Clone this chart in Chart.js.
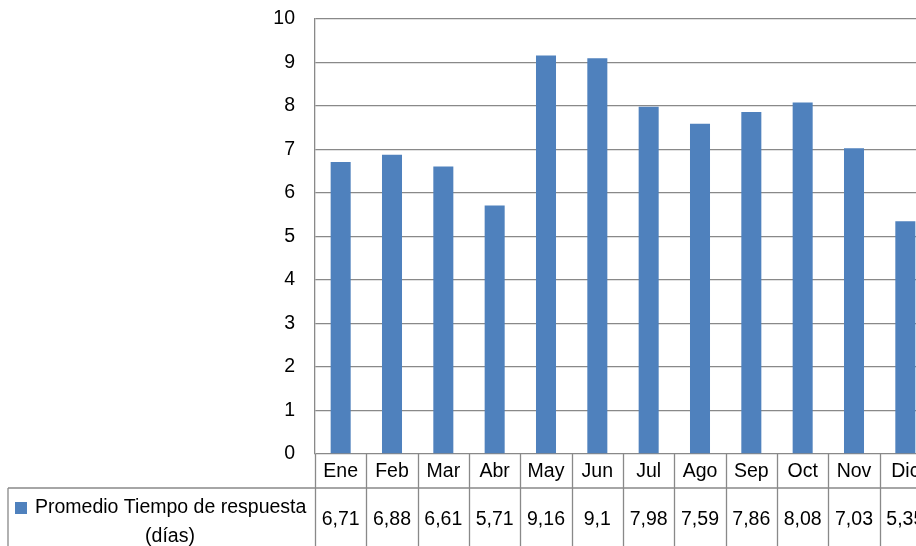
<!DOCTYPE html>
<html>
<head>
<meta charset="utf-8">
<script src="https://cdn.jsdelivr.net/npm/chart.js@4/dist/chart.umd.min.js"></script>
<style>
  html, body { margin: 0; padding: 0; background: #fff; overflow: hidden; }
  canvas { display: block; }
</style>
</head>
<body>
<canvas id="myChart" width="931" height="546" style="width:931px;height:546px"></canvas>
<script>
var categories = ['Ene', 'Feb', 'Mar', 'Abr', 'May', 'Jun', 'Jul', 'Ago', 'Sep', 'Oct', 'Nov', 'Dic'];
var values = [6.71, 6.88, 6.61, 5.71, 9.16, 9.1, 7.98, 7.59, 7.86, 8.08, 7.03, 5.35];
var seriesName = ['Promedio Tiempo de respuesta', '(días)'];
var yMin = 0, yMax = 10, yStep = 1;

var barColor = '#4F81BD';
var lineColor = '#898989';
var fontFamily = "'Liberation Sans', Arial, sans-serif";

// data table under the plot, drawn from the x scale
var dataTable = {
    id: 'dataTable',
    afterDraw: function(chart) {
        var c = chart.ctx;
        var x = chart.scales.x;
        var area = chart.chartArea;
        var n = categories.length;
        var w = (area.right - area.left) / n;
        var rowTop = area.bottom;
        var rowMid = 488;
        var bottom = chart.height;

        c.save();
        c.strokeStyle = lineColor;
        c.lineWidth = 1.3;
        c.beginPath();
        c.moveTo(8, rowMid); c.lineTo(area.right, rowMid);
        c.moveTo(8, rowMid); c.lineTo(8, bottom);
        for (var i = 0; i <= n; i++) {
            var bx = Math.round(area.left + i * w) + 0.5;
            c.moveTo(bx, rowTop); c.lineTo(bx, bottom);
        }
        c.stroke();

        c.fillStyle = '#000';
        c.font = '19.5px ' + fontFamily;
        c.textAlign = 'center';
        c.textBaseline = 'middle';
        for (var j = 0; j < n; j++) {
            var cx = x.getPixelForValue(j);
            c.fillText(categories[j], cx, 472);
            c.fillText(String(values[j]).replace('.', ','), cx, 520);
        }

        // legend key
        c.fillStyle = barColor;
        c.fillRect(15, 502, 12, 12);
        c.fillStyle = '#000';
        c.textAlign = 'left';
        c.fillText(seriesName[0], 35, 508);
        c.textAlign = 'center';
        c.fillText(seriesName[1], 170, 537);
        c.restore();
    }
};

var ctx = document.getElementById('myChart').getContext('2d');
var myChart = new Chart(ctx, {
    type: 'bar',
    data: {
        labels: categories,
        datasets: [{
            label: seriesName.join(' '),
            data: values,
            backgroundColor: barColor,
            categoryPercentage: 1,
            barPercentage: 0.39
        }]
    },
    options: {
        responsive: false,
        animation: false,
        layout: { padding: { top: 19, bottom: 92, left: 0, right: 0 } },
        plugins: {
            legend: { display: false },
            tooltip: { enabled: false }
        },
        scales: {
            x: { display: false },
            y: {
                min: yMin,
                max: yMax,
                afterFit: function(scale) {
                    scale.width = 315;
                    scale.paddingTop = 0;
                    scale.paddingBottom = 0;
                },
                ticks: {
                    stepSize: yStep,
                    padding: 20,
                    color: '#000',
                    font: { family: fontFamily, size: 19.5 }
                },
                grid: { color: lineColor, lineWidth: 1.3, drawTicks: false },
                border: { color: lineColor, width: 1.3 }
            }
        }
    },
    plugins: [dataTable]
});
</script>
</body>
</html>
